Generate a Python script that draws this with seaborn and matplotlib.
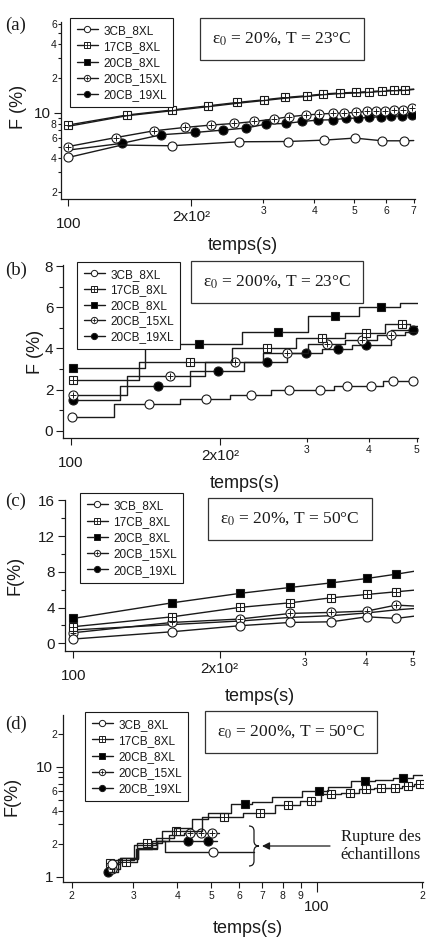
import matplotlib
matplotlib.use("Agg")
import matplotlib.pyplot as plt
import matplotlib.transforms as mtransforms
import seaborn as sns
from matplotlib.lines import Line2D
from matplotlib.legend_handler import HandlerTuple
from matplotlib.path import Path
from matplotlib.patches import PathPatch, FancyArrowPatch

SERIES = ["3CB_8XL", "17CB_8XL", "20CB_8XL", "20CB_15XL", "20CB_19XL"]

# ---- (a) eps0 = 20 %, T = 23 C ----
t_a = {
    "3CB_8XL": [100, 135, 179, 261, 344, 423, 502, 587, 663, 700],
    "17CB_8XL": [100, 139, 179, 220, 259, 302, 339, 383, 421, 461, 505, 545, 587, 626, 665, 700],
    "20CB_8XL": [100, 139, 179, 220, 259, 302, 339, 383, 421, 461, 505, 545, 587, 626, 665, 700],
    "20CB_15XL": [100, 131, 162, 193, 224, 255, 285, 318, 347, 381, 411, 443, 473, 505, 537, 565,
                  597, 626, 660, 692, 700],
    "20CB_19XL": [100, 135, 169, 204, 239, 272, 305, 341, 374, 409, 443, 477, 510, 545, 582, 617,
                  657, 692, 700],
}
F_a = {
    "3CB_8XL": [4.05, 5.2, 5.13, 5.56, 5.59, 5.75, 5.99, 5.67, 5.67, 5.7],
    "17CB_8XL": [7.8, 9.54, 10.56, 11.5, 12.3, 13.0, 13.6, 14.1, 14.6, 14.9, 15.1, 15.3, 15.6, 15.8, 15.9, 16.1],
    "20CB_8XL": [7.6, 9.4, 10.4, 11.3, 12.1, 12.8, 13.4, 13.9, 14.4, 14.7, 14.9, 15.1, 15.4, 15.6, 15.7, 16.0],
    "20CB_15XL": [5.05, 6.06, 6.94, 7.43, 7.80, 8.05, 8.38, 8.80, 9.22, 9.54, 9.74, 9.86, 9.94, 10.06,
                  10.27, 10.27, 10.4, 10.56, 10.6, 11.0, 11.0],
    "20CB_19XL": [4.7, 5.38, 6.41, 6.71, 7.04, 7.34, 7.95, 8.05, 8.38, 8.62, 8.67, 8.91, 8.98, 9.09,
                  9.22, 9.28, 9.41, 9.6, 9.6],
}
marks_a = {"3CB_8XL": [0, 2, 3, 4, 5, 6, 7, 8], "20CB_8XL": [],
           "20CB_19XL": list(range(1, 18))}

# ---- (b) eps0 = 200 %, T = 23 C ----
t_b = {
    "3CB_8XL": [100.6, 144, 187.5, 231, 276, 318, 362, 405, 448, 492, 502],
    "17CB_8XL": [101, 174, 249, 321, 394, 467, 502],
    "20CB_8XL": [101, 181, 262, 341, 423, 502],
    "20CB_15XL": [100.8, 158.5, 215, 273, 330, 387, 444, 502],
    "20CB_19XL": [100.8, 150, 198, 249, 298, 346, 395, 492, 502],
}
F_b = {
    "3CB_8XL": [0.66, 1.30, 1.54, 1.75, 1.96, 1.96, 2.18, 2.18, 2.43, 2.43, 2.43],
    "17CB_8XL": [2.48, 3.36, 4.01, 4.50, 4.74, 5.19, 5.1],
    "20CB_8XL": [3.04, 4.21, 4.82, 5.55, 6.0, 6.2],
    "20CB_15XL": [1.75, 2.64, 3.32, 3.77, 4.21, 4.42, 4.63, 4.8],
    "20CB_19XL": [1.50, 2.18, 2.88, 3.33, 3.77, 3.98, 4.17, 4.87, 4.87],
}
marks_b = {}

# ---- (c) eps0 = 20 %, T = 50 C ----
t_c = {name: [100, 160, 220, 280, 340, 402, 462, 505] for name in SERIES}
F_c = {
    "3CB_8XL": [0.48, 1.30, 1.97, 2.34, 2.41, 2.97, 2.79, 3.05],
    "17CB_8XL": [1.86, 2.97, 4.02, 4.54, 5.10, 5.47, 5.77, 5.96],
    "20CB_8XL": [2.79, 4.54, 5.59, 6.26, 6.77, 7.26, 7.74, 8.08],
    "20CB_15XL": [1.19, 2.34, 2.72, 3.35, 3.46, 3.61, 4.28, 4.17],
    "20CB_19XL": [1.5, 2.1, 2.5, 2.9, 3.1, 3.4, 3.75, 3.9],
}
marks_c = {"20CB_19XL": []}

# ---- (d) eps0 = 200 %, T = 50 C ----
t_d = {
    "3CB_8XL": [26.1, 29, 33, 37, 37, 50.5, 66.3],
    "17CB_8XL": [25.7, 28.5, 32.8, 39.6, 54.5, 68.7, 83, 96.3, 109.8, 124.8, 138.5, 153, 167.5, 182,
                 196.6, 200],
    "20CB_8XL": [25.5, 27.4, 32.7, 37.0, 41.6, 46.3, 51.7, 62.5, 68.7, 80.1, 101.8, 113, 137.6, 155,
                 176, 200],
    "20CB_15XL": [26.1, 29, 32, 36, 40, 43.6, 46.7, 50.3, 52.5],
    "20CB_19XL": [25.4, 29, 33, 37, 42.9, 49.0, 51.8],
}
F_d = {
    "3CB_8XL": [1.32, 1.5, 1.85, 2.1, 1.7, 1.7, 1.7],
    "17CB_8XL": [1.34, 1.38, 2.03, 2.62, 3.53, 3.84, 4.5, 4.9, 5.63, 5.83, 6.25, 6.38, 6.38, 6.7, 6.92, 6.95],
    "20CB_8XL": [1.12, 1.43, 1.96, 2.25, 2.77, 3.34, 3.84, 4.55, 4.83, 5.35, 6.0, 6.5, 7.43, 7.6, 7.95, 8.4],
    "20CB_15XL": [1.18, 1.5, 1.8, 2.1, 2.4, 2.5, 2.5, 2.5, 2.5],
    "20CB_19XL": [1.12, 1.45, 1.8, 2.1, 2.1, 2.1, 2.1],
}
marks_d = {"3CB_8XL": [0, 5], "20CB_8XL": [7, 10, 12, 14],
           "20CB_15XL": [0, 5, 6, 7], "20CB_19XL": [0, 4, 5]}

STYLE = {
    "3CB_8XL": dict(marker="o", fc="white", plus=0, ms=6.5),
    "17CB_8XL": dict(marker="s", fc="white", plus=1.0, ms=5.8),
    "20CB_8XL": dict(marker="s", fc="black", plus=0, ms=5.8),
    "20CB_15XL": dict(marker="o", fc="white", plus=0.6, ms=6.5),
    "20CB_19XL": dict(marker="o", fc="black", plus=0, ms=6.5),
}
DRAW_ORDER = ["20CB_19XL", "20CB_15XL", "17CB_8XL", "20CB_8XL", "3CB_8XL"]

sns.set_theme(style="ticks", rc={"axes.edgecolor": "k", "xtick.color": "k", "ytick.color": "k",
                                 "text.color": "k", "axes.labelcolor": "k", "axes.linewidth": 0.9})
plt.rcParams["font.family"] = ["Liberation Sans", "DejaVu Sans"]
SERIF = ["Liberation Serif", "DejaVu Serif"]

W, H = 428, 943
fig = plt.figure(figsize=(W / 100, H / 100), dpi=100)


def px_axes(left, right, top, bottom):
    return fig.add_axes([left / W, 1 - bottom / H, (right - left) / W, (bottom - top) / H])


def draw_panel(ax, t, F, marks, drawstyle):
    for name in DRAW_ORDER:
        st = STYLE[name]
        x, y = t[name], F[name]
        sns.lineplot(x=x, y=y, ax=ax, color="k", lw=1.0, sort=False, estimator=None,
                     drawstyle=drawstyle)
        idx = marks.get(name, list(range(len(x) - 1)))
        if not idx:
            continue
        xm = [x[i] for i in idx]
        ym = [y[i] for i in idx]
        sns.lineplot(x=xm, y=ym, ax=ax, sort=False, estimator=None, linestyle="none",
                     marker=st["marker"], markersize=st["ms"], mfc=st["fc"], mec="k", mew=0.8,
                     color="k")
        if st["plus"]:
            sns.lineplot(x=xm, y=ym, ax=ax, sort=False, estimator=None, linestyle="none",
                         marker="+", markersize=st["ms"] * st["plus"], mec="k", mew=0.7,
                         color="k")


def legend_handles():
    hs = []
    for name in SERIES:
        st = STYLE[name]
        h = Line2D([], [], color="k", lw=1.0, marker=st["marker"], ms=4.5, mfc=st["fc"],
                   mec="k", mew=0.7)
        if st["plus"]:
            p = Line2D([], [], ls="none", marker="+", ms=4.5 * st["plus"], mec="k", mew=0.6)
            hs.append((h, p))
        else:
            hs.append(h)
    return hs


def add_legend(ax, x, y, spacing):
    leg = ax.legend(legend_handles(), SERIES, loc="upper left", bbox_to_anchor=(x / W, 1 - y / H),
                    bbox_transform=fig.transFigure, borderaxespad=0, fontsize=8.5, frameon=True,
                    fancybox=False, edgecolor="k", framealpha=1, borderpad=0.56,
                    labelspacing=spacing, handlelength=1.8, handletextpad=0.45,
                    handler_map={tuple: HandlerTuple(ndivide=1, pad=0)})
    leg.get_frame().set_linewidth(0.8)


def add_box(x, y, txt):
    fig.text(x / W, 1 - y / H, txt, ha="center", va="center", family=SERIF, fontsize=12.5,
             math_fontfamily="stix",
             bbox=dict(boxstyle="square,pad=0.7", fc="white", ec="#333333", lw=0.9))


def x_ticks(ax, lim, major, major_lab, minor, minor_lab, mlen=5, nlen=3):
    ax.set_xscale("log")
    ax.set_xlim(*lim)
    ax.set_xticks(major, major_lab)
    ax.set_xticks(minor, minor_lab, minor=True)
    ax.tick_params(axis="x", which="major", length=mlen, width=0.8, labelsize=11, pad=3)
    ax.tick_params(axis="x", which="minor", length=nlen, width=0.8, labelsize=7.5, pad=2)


def y_ticks(ax, major, major_lab, minor, minor_lab, mlen=5, nlen=2.5):
    ax.set_yticks(major, major_lab)
    ax.set_yticks(minor, minor_lab, minor=True)
    ax.tick_params(axis="y", which="major", length=mlen, width=0.8, labelsize=11, pad=2)
    ax.tick_params(axis="y", which="minor", length=nlen, width=0.8, labelsize=7.5, pad=0.5)


def labels(ax, ylab, yx, yy, xx, xy, tag, tag_y):
    ax.set_ylabel(ylab, fontsize=13)
    ax.yaxis.set_label_coords(yx, yy)
    ax.set_xlabel("temps(s)", fontsize=13)
    ax.xaxis.set_label_coords(xx, xy)
    fig.text(16 / W, 1 - tag_y / H, tag, family=SERIF, fontsize=13.5, ha="center", va="center")
    sns.despine(ax=ax)


def shift_first_major(ax, dy):
    tk = ax.xaxis.get_major_ticks()[0]
    off = mtransforms.ScaledTranslation(0, -dy / 100, fig.dpi_scale_trans)
    tk.label1.set_transform(tk.label1.get_transform() + off)


# ---------- (a) ----------
ax_a = px_axes(61, 415, 22, 199)
ax_a.set_yscale("log")
ax_a.set_ylim(1.75, 62.5)
x_ticks(ax_a, (96, 705), [100, 200], ["100", "2x10²"], [300, 400, 500, 600, 700],
        ["3", "4", "5", "6", "7"])
y_ticks(ax_a, [10], ["10"], [2, 3, 4, 5, 6, 7, 8, 9, 20, 30, 40, 50, 60],
        ["2", "", "4", "", "6", "", "8", "", "2", "", "4", "", "6"])
draw_panel(ax_a, t_a, F_a, marks_a, "default")
add_legend(ax_a, 70, 18, 0.34)
add_box(282, 39, "ε$_0$ = 20%, T = 23°C")
labels(ax_a, "F (%)", -0.096, 0.52, 0.513, -0.215, "(a)", 25)

# ---------- (b) ----------
ax_b = px_axes(63, 418, 265, 438)
ax_b.set_ylim(-0.35, 8.05)
x_ticks(ax_b, (96.3, 503), [100, 200], ["100", "2x10²"], [300, 400, 500], ["3", "4", "5"])
y_ticks(ax_b, [0, 2, 4, 6, 8], ["0", "2", "4", "6", "8"], [1, 3, 5, 7], ["", "", "", ""],
        nlen=3)
draw_panel(ax_b, t_b, F_b, marks_b, "steps-mid")
add_legend(ax_b, 77, 262, 0.3)
add_box(277, 282, "ε$_0$ = 200%, T = 23°C")
labels(ax_b, "F (%)", -0.054, 0.5, 0.513, -0.214, "(b)", 270)

# ---------- (c) ----------
ax_c = px_axes(65, 414, 500, 651)
ax_c.set_ylim(-0.86, 16.05)
x_ticks(ax_c, (96.1, 503), [100, 200], ["100", "2x10²"], [300, 400, 500], ["3", "4", "5"])
y_ticks(ax_c, [0, 4, 8, 12, 16], ["0", "4", "8", "12", "16"], [2, 6, 10, 14], ["", "", "", ""],
        nlen=3)
draw_panel(ax_c, t_c, F_c, marks_c, "default")
add_legend(ax_c, 80, 493, 0.36)
add_box(290, 519, "ε$_0$ = 20%, T = 50°C")
labels(ax_c, "F(%)", -0.12, 0.5, 0.559, -0.245, "(c)", 501)

# ---------- (d) ----------
ax_d = px_axes(63, 423, 715, 882)
ax_d.set_yscale("log")
ax_d.set_ylim(0.9, 29.5)
x_ticks(ax_d, (18.9, 201), [100], ["100"], [20, 30, 40, 50, 60, 70, 80, 90, 200],
        ["2", "3", "4", "5", "6", "7", "8", "9", "2"], mlen=7, nlen=4.5)
y_ticks(ax_d, [1, 10], ["1", "10"], [2, 3, 4, 5, 6, 7, 8, 9, 20],
        ["2", "", "4", "", "6", "", "", "", "2"], nlen=3.5)
draw_panel(ax_d, t_d, F_d, marks_d, "steps-mid")
add_legend(ax_d, 85, 712, 0.34)
add_box(291, 732, "ε$_0$ = 200%, T = 50°C")
labels(ax_d, "F(%)", -0.117, 0.515, 0.513, -0.228, "(d)", 724)


# rupture annotation: brace + arrow + text
def fxy(px, py):
    return (px / W, 1 - py / H)


brace = Path([fxy(249, 826), fxy(254, 826), fxy(254, 831), fxy(254, 841), fxy(254, 846),
              fxy(259, 846), fxy(254, 846), fxy(254, 851), fxy(254, 861), fxy(254, 866),
              fxy(249, 866)],
             [Path.MOVETO, Path.CURVE3, Path.CURVE3, Path.LINETO, Path.CURVE3, Path.CURVE3,
              Path.CURVE3, Path.CURVE3, Path.LINETO, Path.CURVE3, Path.CURVE3])
fig.patches.append(PathPatch(brace, transform=fig.transFigure, fc="none", ec="k", lw=0.9))
fig.add_artist(FancyArrowPatch(fxy(330, 846), fxy(262, 846), transform=fig.transFigure,
                               arrowstyle="-|>", mutation_scale=11, color="k", lw=0.9,
                               shrinkA=0, shrinkB=0))
fig.text(421 / W, 1 - 846 / H, "Rupture des\néchantillons", family=SERIF, fontsize=12,
         ha="right", va="center", multialignment="right", linespacing=1.15)

for ax in (ax_a, ax_b, ax_c, ax_d):
    shift_first_major(ax, 7 if ax is not ax_d else 4)

fig.savefig("out.png", dpi=100, facecolor="white")
